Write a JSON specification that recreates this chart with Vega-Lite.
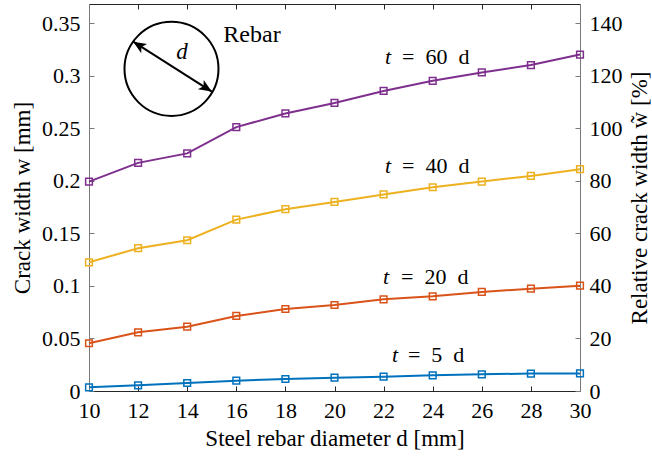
{
  "$schema": "https://vega.github.io/schema/vega-lite/v6.json",
  "width": 491,
  "height": 387,
  "autosize": {"type": "none"},
  "padding": {"left": 89, "top": 4, "right": 72, "bottom": 70},
  "config": {
    "view": {"stroke": null},
    "font": "Liberation Serif",
    "axis": {
      "labelFont": "Liberation Serif",
      "titleFont": "Liberation Serif",
      "labelFontSize": 22,
      "titleFontSize": 23,
      "titleFontWeight": "normal",
      "labelColor": "#000000",
      "titleColor": "#000000",
      "grid": false,
      "tickSize": -5,
      "tickWidth": 1,
      "domainWidth": 1,
      "labelFlush": false,
      "labelOverlap": false
    }
  },
  "datasets": {
    "series": [
      {"d": 10, "w": 0.0035, "t": "5"}, {"d": 12, "w": 0.0054, "t": "5"}, {"d": 14, "w": 0.0076, "t": "5"}, {"d": 16, "w": 0.0098, "t": "5"}, {"d": 18, "w": 0.0114, "t": "5"}, {"d": 20, "w": 0.0127, "t": "5"}, {"d": 22, "w": 0.0136, "t": "5"}, {"d": 24, "w": 0.0149, "t": "5"}, {"d": 26, "w": 0.0159, "t": "5"}, {"d": 28, "w": 0.0166, "t": "5"}, {"d": 30, "w": 0.0167, "t": "5"},
      {"d": 10, "w": 0.0454, "t": "20"}, {"d": 12, "w": 0.0558, "t": "20"}, {"d": 14, "w": 0.0612, "t": "20"}, {"d": 16, "w": 0.0714, "t": "20"}, {"d": 18, "w": 0.078, "t": "20"}, {"d": 20, "w": 0.0818, "t": "20"}, {"d": 22, "w": 0.0872, "t": "20"}, {"d": 24, "w": 0.0901, "t": "20"}, {"d": 26, "w": 0.0942, "t": "20"}, {"d": 28, "w": 0.0973, "t": "20"}, {"d": 30, "w": 0.1002, "t": "20"},
      {"d": 10, "w": 0.1224, "t": "40"}, {"d": 12, "w": 0.1358, "t": "40"}, {"d": 14, "w": 0.1434, "t": "40"}, {"d": 16, "w": 0.163, "t": "40"}, {"d": 18, "w": 0.1729, "t": "40"}, {"d": 20, "w": 0.1798, "t": "40"}, {"d": 22, "w": 0.187, "t": "40"}, {"d": 24, "w": 0.1938, "t": "40"}, {"d": 26, "w": 0.1992, "t": "40"}, {"d": 28, "w": 0.2046, "t": "40"}, {"d": 30, "w": 0.211, "t": "40"},
      {"d": 10, "w": 0.1992, "t": "60"}, {"d": 12, "w": 0.217, "t": "60"}, {"d": 14, "w": 0.226, "t": "60"}, {"d": 16, "w": 0.251, "t": "60"}, {"d": 18, "w": 0.264, "t": "60"}, {"d": 20, "w": 0.274, "t": "60"}, {"d": 22, "w": 0.2854, "t": "60"}, {"d": 24, "w": 0.295, "t": "60"}, {"d": 26, "w": 0.303, "t": "60"}, {"d": 28, "w": 0.31, "t": "60"}, {"d": 30, "w": 0.32, "t": "60"}
    ],
    "tlabels": [
      {"dt": 22.06, "dr": 22.75, "w": 0.3173, "rest": "=\u200260\u2002d"},
      {"dt": 22.06, "dr": 22.75, "w": 0.2144, "rest": "=\u200240\u2002d"},
      {"dt": 21.98, "dr": 22.71, "w": 0.1088, "rest": "=\u200220\u2002d"},
      {"dt": 22.34, "dr": 22.99, "w": 0.0343, "rest": "=\u20025\u2002d"}
    ],
    "notes": [
      {"d": 16.64, "w": 0.3387, "label": "Rebar"}
    ],
    "symbol": [
      {"d": 13.79, "w": 0.322, "label": "d"}
    ],
    "circle": [
      {"d": 13.36, "w": 0.3064}
    ],
    "arrow": [
      {"d": 11.8, "w": 0.3323, "d2": 15.0, "w2": 0.2848}
    ],
    "heads": [
      {"d": 11.8, "w": 0.3323, "angle": 212.5},
      {"d": 15.0, "w": 0.2848, "angle": 32.5}
    ]
  },
  "layer": [
    {
      "data": {"name": "series"},
      "mark": {"type": "line", "strokeWidth": 2},
      "encoding": {
        "x": {"field": "d", "type": "quantitative", "scale": {"domain": [10, 30], "nice": false},
          "axis": {"orient": "bottom", "values": [10, 12, 14, 16, 18, 20, 22, 24, 26, 28, 30], "title": "Steel rebar diameter d [mm]", "domainColor": "#262626", "tickColor": "#262626", "labelPadding": 14, "titlePadding": 6}},
        "y": {"field": "w", "type": "quantitative", "scale": {"domain": [0, 0.3681], "nice": false},
          "axis": {"orient": "left", "values": [0, 0.05, 0.1, 0.15, 0.2, 0.25, 0.3, 0.35], "labelExpr": "format(datum.value, '~g')", "title": "Crack width w [mm]", "domainColor": "#7a7a7a", "tickColor": "#7a7a7a", "labelPadding": 14, "titlePadding": 7}},
        "color": {"field": "t", "type": "nominal", "scale": {"domain": ["5", "20", "40", "60"], "range": ["#0072BD", "#D95319", "#EDB120", "#7E2F8E"]}, "legend": null}
      }
    },
    {
      "data": {"name": "series"},
      "mark": {"type": "point", "shape": "square", "filled": false, "size": 45, "strokeWidth": 1.5, "opacity": 1},
      "encoding": {
        "x": {"field": "d", "type": "quantitative", "scale": {"domain": [10, 30], "nice": false}, "axis": null},
        "y": {"field": "w", "type": "quantitative", "scale": {"domain": [0, 0.3681], "nice": false}, "axis": null},
        "color": {"field": "t", "type": "nominal", "scale": {"domain": ["5", "20", "40", "60"], "range": ["#0072BD", "#D95319", "#EDB120", "#7E2F8E"]}, "legend": null}
      }
    },
    {
      "data": {"name": "tlabels"},
      "mark": {"type": "text", "font": "Liberation Serif", "fontSize": 22, "fontStyle": "italic", "color": "#000000", "align": "left", "baseline": "middle", "text": "t"},
      "encoding": {
        "x": {"field": "dt", "type": "quantitative", "scale": {"domain": [10, 30], "nice": false}, "axis": null},
        "y": {"field": "w", "type": "quantitative", "scale": {"domain": [0, 0.3681], "nice": false}, "axis": null}
      }
    },
    {
      "data": {"name": "tlabels"},
      "mark": {"type": "text", "font": "Liberation Serif", "fontSize": 22, "color": "#000000", "align": "left", "baseline": "middle"},
      "encoding": {
        "x": {"field": "dr", "type": "quantitative", "scale": {"domain": [10, 30], "nice": false}, "axis": null},
        "y": {"field": "w", "type": "quantitative", "scale": {"domain": [0, 0.3681], "nice": false}, "axis": null},
        "text": {"field": "rest"}
      }
    },
    {
      "data": {"name": "notes"},
      "mark": {"type": "text", "font": "Liberation Serif", "fontSize": 24, "color": "#000000", "align": "center", "baseline": "middle"},
      "encoding": {
        "x": {"field": "d", "type": "quantitative", "scale": {"domain": [10, 30], "nice": false}, "axis": null},
        "y": {"field": "w", "type": "quantitative", "scale": {"domain": [0, 0.3681], "nice": false}, "axis": null},
        "text": {"field": "label"}
      }
    },
    {
      "data": {"name": "symbol"},
      "mark": {"type": "text", "font": "Liberation Serif", "fontSize": 23, "fontStyle": "italic", "color": "#000000", "align": "center", "baseline": "middle"},
      "encoding": {
        "x": {"field": "d", "type": "quantitative", "scale": {"domain": [10, 30], "nice": false}, "axis": null},
        "y": {"field": "w", "type": "quantitative", "scale": {"domain": [0, 0.3681], "nice": false}, "axis": null},
        "text": {"field": "label"}
      }
    },
    {
      "data": {"name": "circle"},
      "mark": {"type": "point", "shape": "circle", "filled": false, "size": 8836, "stroke": "#000000", "strokeWidth": 2, "opacity": 1},
      "encoding": {
        "x": {"field": "d", "type": "quantitative", "scale": {"domain": [10, 30], "nice": false}, "axis": null},
        "y": {"field": "w", "type": "quantitative", "scale": {"domain": [0, 0.3681], "nice": false}, "axis": null}
      }
    },
    {
      "data": {"name": "arrow"},
      "mark": {"type": "rule", "stroke": "#000000", "strokeWidth": 2},
      "encoding": {
        "x": {"field": "d", "type": "quantitative", "scale": {"domain": [10, 30], "nice": false}, "axis": null},
        "y": {"field": "w", "type": "quantitative", "scale": {"domain": [0, 0.3681], "nice": false}, "axis": null},
        "x2": {"field": "d2"},
        "y2": {"field": "w2"}
      }
    },
    {
      "data": {"name": "heads"},
      "mark": {"type": "point", "shape": "M0,0L-1,-0.42L-0.75,0L-1,0.42Z", "filled": true, "size": 676, "color": "#000000", "opacity": 1, "strokeWidth": 0},
      "encoding": {
        "x": {"field": "d", "type": "quantitative", "scale": {"domain": [10, 30], "nice": false}, "axis": null},
        "y": {"field": "w", "type": "quantitative", "scale": {"domain": [0, 0.3681], "nice": false}, "axis": null},
        "angle": {"field": "angle", "type": "quantitative", "scale": null}
      }
    },
    {
      "data": {"name": "series"},
      "mark": {"type": "point", "opacity": 0},
      "encoding": {
        "x": {"field": "d", "type": "quantitative", "scale": {"domain": [10, 30], "nice": false},
          "axis": {"orient": "top", "values": [10, 12, 14, 16, 18, 20, 22, 24, 26, 28, 30], "labels": false, "title": null, "domainColor": "#262626", "tickColor": "#262626"}},
        "y": {"field": "w", "type": "quantitative", "scale": {"domain": [0, 0.3681], "nice": false},
          "axis": {"orient": "right", "values": [0, 0.05, 0.1, 0.15, 0.2, 0.25, 0.3, 0.35], "labelExpr": "format(round(datum.value * 400), 'd')", "title": "Relative crack width w̃ [%]", "titleAngle": -90, "titleBaseline": "top", "domainColor": "#7a7a7a", "tickColor": "#7a7a7a", "labelPadding": 14, "titlePadding": 6}}
      }
    }
  ],
  "resolve": {"scale": {"y": "independent"}, "axis": {"x": "independent", "y": "independent"}}
}
